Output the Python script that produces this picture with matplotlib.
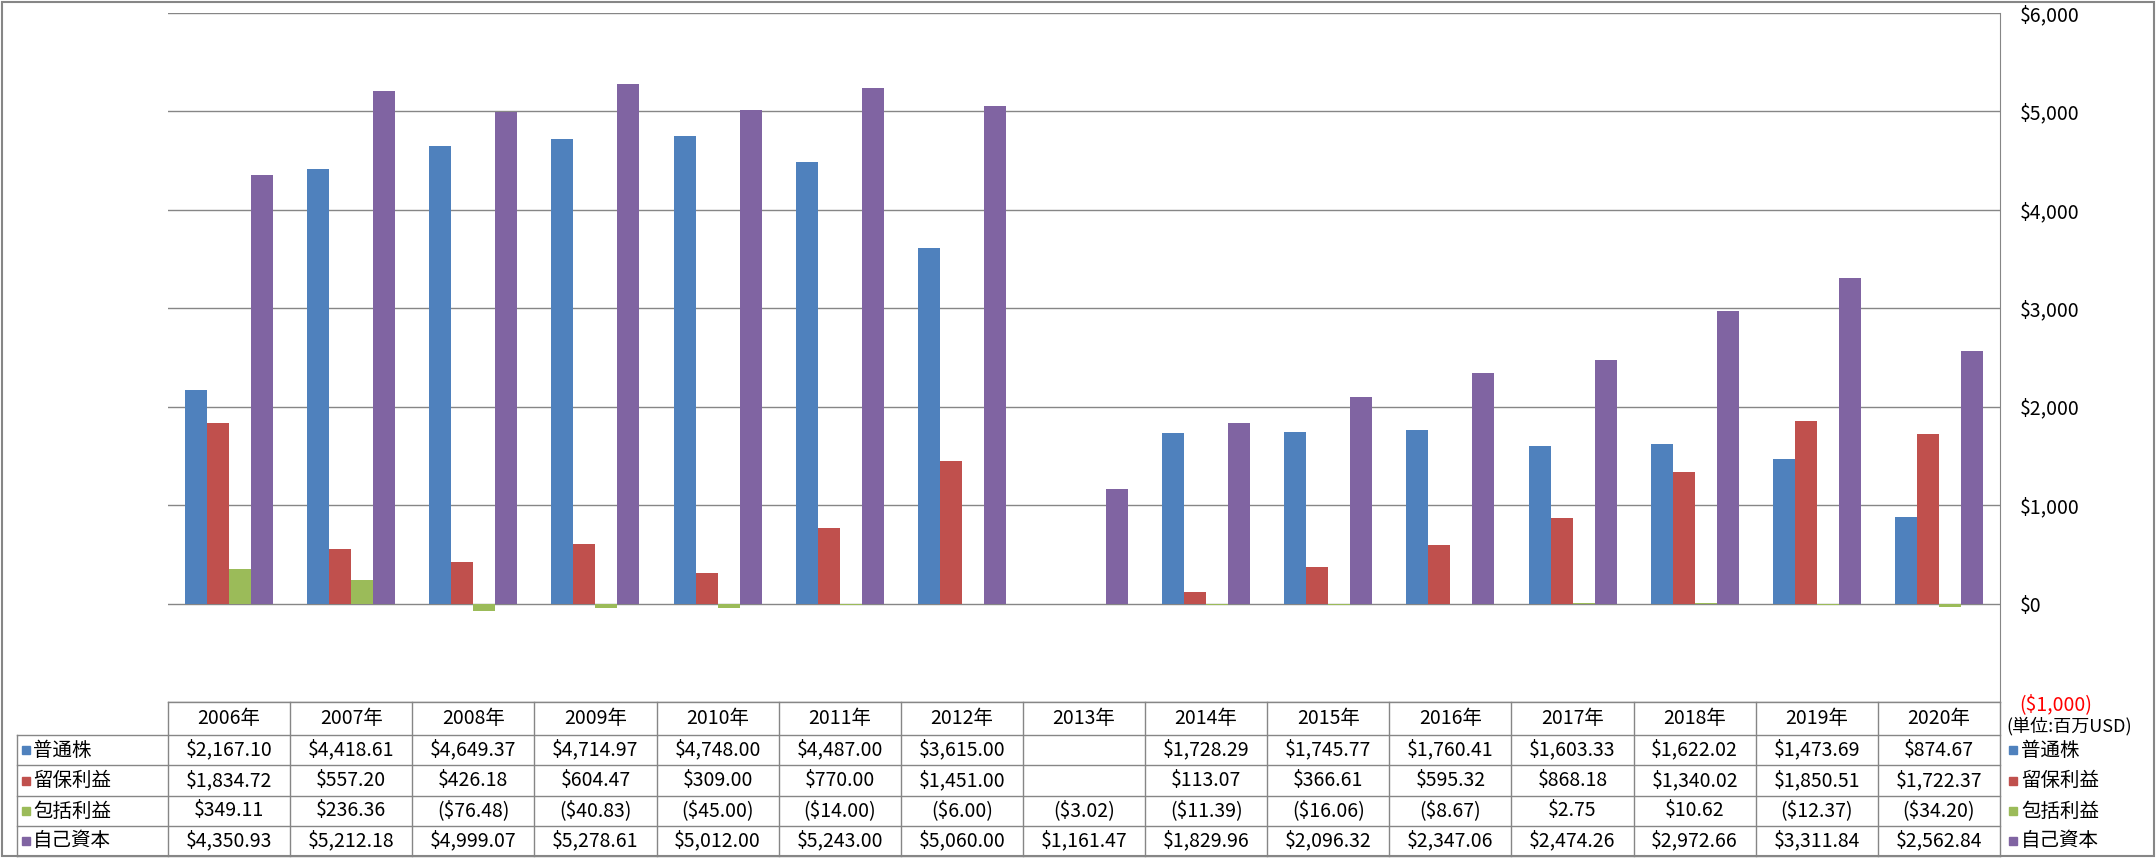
import numpy as np
import matplotlib
matplotlib.use("Agg")
import matplotlib.pyplot as plt
from matplotlib.patches import Rectangle

plt.rcParams['font.family'] = ['Noto Sans CJK JP', 'DejaVu Sans']

# ── Data (単位: 百万USD) ──────────────────────────────────────────────────────
years = ["2006年", "2007年", "2008年", "2009年", "2010年", "2011年", "2012年", "2013年",
         "2014年", "2015年", "2016年", "2017年", "2018年", "2019年", "2020年"]
series_names = ["普通株", "留保利益", "包括利益", "自己資本"]

common_stock = [2167.10, 4418.61, 4649.37, 4714.97, 4748.00, 4487.00, 3615.00, np.nan,
                1728.29, 1745.77, 1760.41, 1603.33, 1622.02, 1473.69, 874.67]
retained_earnings = [1834.72, 557.20, 426.18, 604.47, 309.00, 770.00, 1451.00, np.nan,
                     113.07, 366.61, 595.32, 868.18, 1340.02, 1850.51, 1722.37]
comprehensive_income = [349.11, 236.36, -76.48, -40.83, -45.00, -14.00, -6.00, -3.02,
                        -11.39, -16.06, -8.67, 2.75, 10.62, -12.37, -34.20]
equity = [4350.93, 5212.18, 4999.07, 5278.61, 5012.00, 5243.00, 5060.00, 1161.47,
          1829.96, 2096.32, 2347.06, 2474.26, 2972.66, 3311.84, 2562.84]

y_ticks = [-1000, 0, 1000, 2000, 3000, 4000, 5000, 6000]

colors = ["#4F81BD", "#C0504D", "#9BBB59", "#8064A2"]
grid_color = "#868686"
FS = 14


def fmt_usd(v):
    if np.isnan(v):
        return ""
    if v < 0:
        return f"(${-v:,.2f})"
    return f"${v:,.2f}"


def fmt_tick(v):
    if v < 0:
        return f"(${-v:,.0f})"
    return f"${v:,.0f}"


# ── Layout in pixels ─────────────────────────────────────────────────────────
W, H = 2156, 858
plot_l, plot_r = 168, 2000
plot_t, plot_b = 13, 702
row_edges = [702, 735, 765, 796, 826, 856]
legend_l = 17

fig = plt.figure(figsize=(W / 100, H / 100), dpi=100)

# overlay for borders and the data table
ov = fig.add_axes([0, 0, 1, 1])
ov.set_xlim(0, W)
ov.set_ylim(H, 0)
ov.axis("off")

ax = fig.add_axes([plot_l / W, (H - plot_b) / H, (plot_r - plot_l) / W, (plot_b - plot_t) / H])

# ── Bars ─────────────────────────────────────────────────────────────────────
x = np.arange(len(years))
bw = 0.18
all_series = [common_stock, retained_earnings, comprehensive_income, equity]
for i, (vals, c) in enumerate(zip(all_series, colors)):
    ax.bar(x + (i - 1.5) * bw, vals, width=bw, color=c, zorder=3)

ax.set_xlim(-0.5, len(years) - 0.5)
ax.set_ylim(-1000, 6000)
ax.set_yticks(y_ticks)
ax.set_yticklabels([fmt_tick(v) for v in y_ticks])
ax.yaxis.tick_right()
ax.tick_params(axis="y", length=0, pad=14, labelsize=FS)
ax.get_yticklabels()[0].set_color("red")
ax.set_xticks([])
ax.grid(axis="y", color=grid_color, linewidth=1.0, zorder=1)
ax.set_axisbelow(True)
for s in ["top", "left", "bottom"]:
    ax.spines[s].set_visible(False)
ax.spines["right"].set_color(grid_color)
ax.patch.set_alpha(0)

# ── Table ────────────────────────────────────────────────────────────────────
col_w = (plot_r - plot_l) / len(years)
lc = dict(color=grid_color, linewidth=1.0)

ov.plot([plot_l, plot_r], [row_edges[0], row_edges[0]], **lc)
for yy in row_edges[1:]:
    ov.plot([legend_l, plot_r], [yy, yy], **lc)
ov.plot([legend_l, legend_l], [row_edges[1], row_edges[-1]], **lc)
for k in range(len(years) + 1):
    xx = plot_l + k * col_w
    ov.plot([xx, xx], [row_edges[0], row_edges[-1]], **lc)

row_c = [(row_edges[i] + row_edges[i + 1]) / 2 for i in range(len(row_edges) - 1)]
for k, yr in enumerate(years):
    cx = plot_l + (k + 0.5) * col_w
    ov.text(cx, row_c[0], yr, ha="center", va="center", fontsize=FS)
    for r, vals in enumerate(all_series):
        ov.text(cx, row_c[r + 1], fmt_usd(vals[k]), ha="center", va="center", fontsize=FS)

# left row labels + right legend
for r, (name, c) in enumerate(zip(series_names, colors)):
    yc = row_c[r + 1]
    ov.add_patch(Rectangle((22, yc - 4), 8, 8, color=c))
    ov.text(33, yc, name, ha="left", va="center", fontsize=FS)
    ov.add_patch(Rectangle((2009, yc - 4), 8, 8, color=c))
    ov.text(2021, yc, name, ha="left", va="center", fontsize=FS)

ov.text(2006, 726, "(単位:百万USD)", ha="left", va="center", fontsize=13)

# outer chart border
ov.add_patch(Rectangle((2, 2), W - 4, H - 4, fill=False, edgecolor=grid_color, linewidth=1.5))

fig.savefig("out.png", dpi=100)
